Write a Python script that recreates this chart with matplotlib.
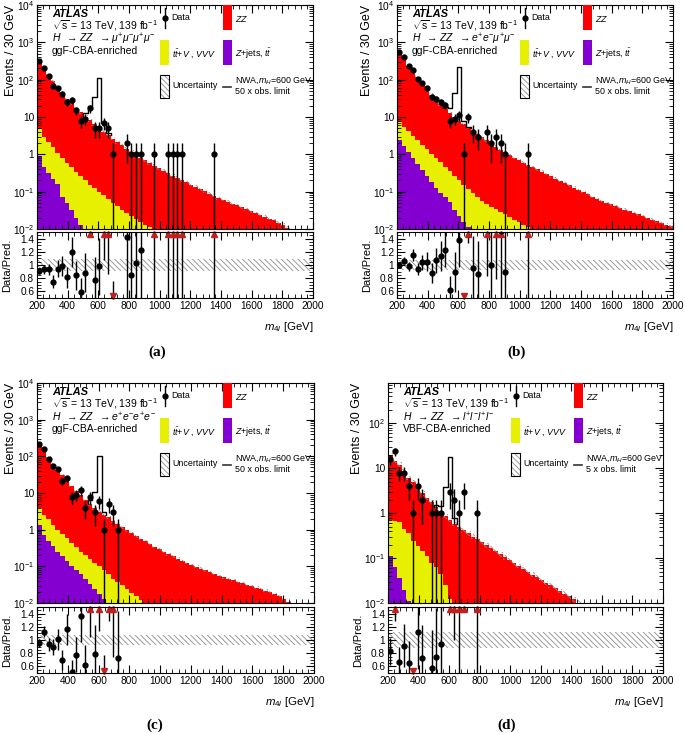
import numpy as np
import matplotlib
matplotlib.use("Agg")
import matplotlib.pyplot as plt
from matplotlib.patches import Rectangle
from matplotlib.lines import Line2D
from matplotlib.ticker import MultipleLocator, LogLocator, FuncFormatter, NullFormatter

plt.rcParams['font.family'] = ['Liberation Sans', 'DejaVu Sans']
plt.rcParams['mathtext.fontset'] = 'custom'
plt.rcParams['mathtext.rm'] = 'Liberation Sans'
plt.rcParams['mathtext.it'] = 'Liberation Sans:italic'
plt.rcParams['mathtext.bf'] = 'Liberation Sans:bold'
plt.rcParams['hatch.linewidth'] = 0.6
plt.rcParams['hatch.color'] = '#8c8c8c'

# 30 GeV bins, 200-2000 GeV
edges = np.arange(200, 2001, 30)
NB = len(edges) - 1
centers = edges[:-1] + 15

# background predictions, log10(events/bin)
a_zz = [2.53, 2.33, 2.12, 1.95, 1.78, 1.62, 1.48, 1.36, 1.24, 1.12,
        1.00, 0.90, 0.80, 0.70, 0.60, 0.50, 0.41, 0.32, 0.23, 0.14,
        0.06, -0.02, -0.10, -0.17, -0.24, -0.31, -0.38, -0.45, -0.51, -0.57,
        -0.63, -0.69, -0.75, -0.81, -0.87, -0.93, -0.99, -1.05, -1.11, -1.17,
        -1.22, -1.27, -1.32, -1.37, -1.42, -1.47, -1.52, -1.57, -1.62, -1.67,
        -1.72, -1.77, -1.83, -1.89, -1.96, -2.05, -2.2, -2.4, -2.5, -2.6]
a_ttv = [0.58, 0.38, 0.25, 0.12, -0.02, -0.13, -0.26, -0.38, -0.5, -0.6,
         -0.71, -0.81, -0.9, -1.0, -1.1, -1.2, -1.3, -1.39, -1.48, -1.57,
         -1.65, -1.73, -1.81, -1.88, -1.95, -2.02, -2.1, -2.2]
a_zjets = [-0.05, -0.33, -0.5, -0.65, -0.8, -1.15, -1.3, -1.48, -1.7, -1.9, -2.1]

b_zz = [2.74, 2.57, 2.37, 2.2, 2.05, 1.88, 1.73, 1.59, 1.45, 1.33,
        1.22, 1.1, 0.99, 0.89, 0.8, 0.7, 0.61, 0.53, 0.45, 0.37,
        0.29, 0.2, 0.11, 0.04, -0.03, -0.1, -0.16, -0.23, -0.29, -0.35,
        -0.41, -0.47, -0.53, -0.59, -0.65, -0.71, -0.77, -0.83, -0.89, -0.95,
        -1.01, -1.07, -1.13, -1.19, -1.25, -1.3, -1.34, -1.39, -1.43, -1.48,
        -1.52, -1.57, -1.61, -1.66, -1.7, -1.75, -1.79, -1.84, -1.88, -1.93]
b_ttv = [0.7, 0.58, 0.48, 0.37, 0.27, 0.16, 0.05, -0.07, -0.18, -0.29,
         -0.41, -0.53, -0.64, -0.75, -0.87, -0.97, -1.08, -1.15, -1.24, -1.32,
         -1.4, -1.47, -1.54, -1.61, -1.68, -1.75, -1.82, -1.88, -1.94, -2.01,
         -2.07, -2.13]
b_zjets = [0.38, 0.22, 0.06, -0.1, -0.27, -0.43, -0.58, -0.73, -0.9, -1.03,
           -1.15, -1.28, -1.5, -1.65, -1.8, -1.95, -2.1]

c_zz = [2.34, 2.15, 1.96, 1.79, 1.63, 1.47, 1.32, 1.18, 1.05, 0.93,
        0.8, 0.68, 0.57, 0.48, 0.4, 0.32, 0.22, 0.13, 0.05, -0.03,
        -0.11, -0.19, -0.26, -0.33, -0.4, -0.47, -0.54, -0.61, -0.67, -0.73,
        -0.79, -0.85, -0.91, -0.96, -1.01, -1.06, -1.11, -1.16, -1.21, -1.26,
        -1.3, -1.34, -1.38, -1.42, -1.46, -1.5, -1.54, -1.58, -1.62, -1.66,
        -1.7, -1.75, -1.81, -1.89, -1.98, -2.1, -2.3, -2.4, -2.5, -2.6]
c_ttv = [0.42, 0.25, 0.15, -0.02, -0.12, -0.24, -0.36, -0.48, -0.6, -0.72,
         -0.81, -0.9, -0.99, -1.09, -1.18, -1.27, -1.35, -1.42, -1.52, -1.62,
         -1.72, -1.82, -1.92, -2.02, -2.12]
c_zjets = [0.13, -0.14, -0.3, -0.45, -0.6, -0.72, -0.86, -0.98, -1.1, -1.22,
           -1.35, -1.48, -1.62, -1.75, -1.9, -2.05]

d_zz = [1.27, 1.15, 1.06, 0.92, 0.76, 0.66, 0.53, 0.42, 0.32, 0.22,
        0.11, 0.01, -0.08, -0.16, -0.24, -0.31, -0.38, -0.45, -0.52, -0.58,
        -0.65, -0.71, -0.78, -0.85, -0.91, -0.98, -1.04, -1.11, -1.17, -1.24,
        -1.3, -1.37, -1.43, -1.49, -1.55, -1.61, -1.67, -1.73, -1.79, -1.85,
        -1.92, -1.99, -2.1, -2.3]
d_ttv = [-0.22, -0.21, -0.23, -0.37, -0.46, -0.62, -0.74, -0.85, -0.95, -1.1,
         -1.2, -1.35, -1.6, -1.9, -2.2]
d_zjets = [-0.95, -1.2, -1.45, -1.7, -1.95, -2.3]

# observed events per bin
a_data = [312, 203, 125, 68, 58, 42, 25, 28, 15, 8, 9, 17, 5, 5, 7, 5, 1, 0, 0, 2,
          1, 1, 1, 0, 0, 1, 0, 0, 1, 1, 1, 1, 0, 0, 0, 0, 0, 0, 1]
b_data = [560, 400, 234, 186, 107, 81, 58, 35, 31, 25, 21, 8, 9, 11, 1, 10, 4, 3, 0, 4,
          2, 3, 2, 1, 0, 0, 0, 0, 1]
c_data = [213, 162, 87, 56, 44, 21, 25, 8, 9, 12, 4, 8, 3, 6, 1, 5, 3, 1]
d_data = [16, 24, 8, 8, 4, 1, 4, 2, 0, 1, 1, 1, 0, 3, 2, 1, 3, 0, 0, 1]

# NWA 600 GeV signal (scaled), first bin index 10
sig_first = 10
a_sig = [2.6, 12, 28, 107, 2.9, 0.6]
b_sig = [2.0, 5, 34, 212, 1.5, 0.4]
c_sig = [0.0, 1.5, 7, 97, 0.5]
d_sig = [0.2, 0.4, 2.9, 17, 0.2]

# relative systematic uncertainty
unc = [0.09, 0.08, 0.08, 0.12]

channels = [r'$H\ \ \rightarrow ZZ\ \ \rightarrow\mu^{+}\mu^{-}\mu^{+}\mu^{-}$',
            r'$H\ \ \rightarrow ZZ\ \ \rightarrow e^{+}e^{-}\mu^{+}\mu^{-}$',
            r'$H\ \ \rightarrow ZZ\ \ \rightarrow e^{+}e^{-}e^{+}e^{-}$',
            r'$H\ \ \rightarrow ZZ\ \ \rightarrow l^{+}l^{-}l^{+}l^{-}$']
regions = ['ggF-CBA-enriched', 'ggF-CBA-enriched', 'ggF-CBA-enriched', 'VBF-CBA-enriched']
sig_scales = ['50 x obs. limit', '50 x obs. limit', '50 x obs. limit', '5 x obs. limit']
letters = ['(a)', '(b)', '(c)', '(d)']

RED = '#ff0000'
YELLOW = '#e6f000'
PURPLE = '#8400d0'
ARROW = '#c0201e'
HATCH = '\\\\\\\\\\\\'

W, H = 685, 733
fig = plt.figure(figsize=(W / 100, H / 100), dpi=100)

# layout in pixels: (left, top, right, bottom)
main_px = [(37, 5, 313, 229), (397, 5, 673, 229), (37, 383, 314, 603), (388, 383, 663, 603)]
ratio_px = [(37, 232, 313, 298), (397, 232, 673, 298), (37, 607, 314, 673), (388, 607, 663, 673)]
letter_px = [(157, 352), (517, 352), (155, 725), (507, 725)]
ylab_off = [-20, -24, -20, -25]
ymaxs = [1e4, 1e4, 1e4, 790]


def rect(px):
    l, t, r, b = px
    return [l / W, 1 - b / H, (r - l) / W, (b - t) / H]


def fx(x):
    return x / W


def fy(y):
    return 1 - y / H


def lin(logs):
    v = np.zeros(NB)
    v[:len(logs)] = 10.0 ** np.array(logs)
    return v


def logfmt(v, pos):
    e = int(round(np.log10(v)))
    if e == 0:
        return '1'
    if e == 1:
        return '10'
    return r'$10^{%d}$' % e


def style(ax):
    ax.tick_params(which='both', direction='in', top=True, right=True, labelsize=7.3, pad=2)
    ax.tick_params(which='major', length=6)
    ax.tick_params(which='minor', length=3)
    for s in ax.spines.values():
        s.set_linewidth(0.8)
    ax.xaxis.set_major_locator(MultipleLocator(200))
    ax.xaxis.set_minor_locator(MultipleLocator(40))


def draw(k, zz_log, ttv_log, zj_log, data, sig):
    zj = lin(zj_log)
    tv = lin(ttv_log)
    zz = lin(zz_log)
    c2 = zj + tv
    tot = c2 + zz
    n = np.zeros(NB)
    n[:len(data)] = data
    floor = 1e-4

    ax = fig.add_axes(rect(main_px[k]))
    ax.set_yscale('log')
    ax.set_xlim(200, 2000)
    ax.set_ylim(1e-2, ymaxs[k])
    ax.stairs(np.maximum(tot, floor), edges, baseline=floor, fill=True, color=RED, lw=0)
    ax.stairs(np.maximum(c2, floor), edges, baseline=floor, fill=True, color=YELLOW, lw=0)
    ax.stairs(np.maximum(zj, floor), edges, baseline=floor, fill=True, color=PURPLE, lw=0)

    # uncertainty band on the total
    lo = np.maximum(tot * (1 - unc[k]), floor)
    hi = np.maximum(tot * (1 + unc[k]), floor)
    ax.fill_between(edges, np.append(lo, lo[-1]), np.append(hi, hi[-1]), step='post',
                    facecolor='none', edgecolor='#8c8c8c', hatch=HATCH, linewidth=0)

    # signal on top of background
    s = np.zeros(NB)
    s[sig_first:sig_first + len(sig)] = sig
    idx = np.nonzero(s)[0]
    i0, i1 = idx[0], idx[-1]
    xs, ys = [edges[i0]], [tot[i0]]
    for i in range(i0, i1 + 1):
        xs += [edges[i], edges[i + 1]]
        ys += [tot[i] + s[i]] * 2
    xs.append(edges[i1 + 1])
    ys.append(tot[i1])
    ax.plot(xs, ys, color='black', lw=1.0)

    m = n > 0
    err = np.sqrt(n)
    low = n - np.maximum(n - err, floor)
    ax.errorbar(centers[m], n[m], yerr=[low[m], err[m]], fmt='o', ms=3.5, color='black',
                elinewidth=1, capsize=0)

    style(ax)
    ax.yaxis.set_major_locator(LogLocator(base=10, numticks=12))
    ax.yaxis.set_minor_locator(LogLocator(base=10, subs=np.arange(2, 10), numticks=12))
    ax.yaxis.set_major_formatter(FuncFormatter(logfmt))
    ax.yaxis.set_minor_formatter(NullFormatter())
    ax.tick_params(labelbottom=False)
    ax.set_ylabel('Events / 30 GeV', fontsize=9, loc='top')
    ax.yaxis.set_label_coords(ylab_off[k] / (main_px[k][2] - main_px[k][0]), 1.0)

    # ratio panel
    ar = fig.add_axes(rect(ratio_px[k]))
    ar.set_xlim(200, 2000)
    ar.set_ylim(0.5, 1.5)
    ar.fill_between([200, 2000], 1 - unc[k], 1 + unc[k], facecolor='none',
                    edgecolor='#8c8c8c', hatch=HATCH, linewidth=0)
    r = np.where(tot > 0, n / np.where(tot > 0, tot, 1), 0)
    re = np.where(tot > 0, err / np.where(tot > 0, tot, 1), 0)
    ar.errorbar(centers[m], r[m], yerr=re[m], fmt='o', ms=3.5, color='black',
                elinewidth=1, capsize=0)
    up = m & (r > 1.5)
    dn = m & (r < 0.5)
    ar.plot(centers[up], np.full(up.sum(), 1.472), ls='none', marker='^', ms=4,
            color=ARROW, clip_on=False)
    ar.plot(centers[dn], np.full(dn.sum(), 0.528), ls='none', marker='v', ms=4,
            color=ARROW, clip_on=False)
    style(ar)
    ar.yaxis.set_minor_locator(MultipleLocator(0.05))
    ar.set_yticks([0.6, 0.8, 1.0, 1.2, 1.4])
    ar.yaxis.set_major_formatter(FuncFormatter(lambda v, p: f'{v:g}'))
    ar.set_ylabel('Data/Pred.', fontsize=8)
    ar.yaxis.set_label_coords(-25 / (ratio_px[k][2] - ratio_px[k][0]), 0.5)
    ar.set_xlabel(r'$m_{4l}$ [GeV]', fontsize=8.2, loc='right')
    ar.xaxis.set_label_coords(1.0, -0.34)

    # text block
    L, T = main_px[k][0], main_px[k][1]
    fig.text(fx(L + 15), fy(T + 9), 'ATLAS', fontsize=8, fontweight='bold', fontstyle='italic',
             va='center')
    fig.text(fx(L + 15), fy(T + 21), r'$\sqrt{\mathrm{s}}$ = 13 TeV, 139 fb$^{-1}$',
             fontsize=7.5, va='center')
    fig.text(fx(L + 15), fy(T + 34), channels[k], fontsize=7.5, va='center')
    fig.text(fx(L + 15), fy(T + 46), regions[k], fontsize=7.5, va='center')

    # legend
    tr = fig.transFigure
    fs = 6.4
    fig.add_artist(Line2D([fx(L + 128)] * 2, [fy(T + 3), fy(T + 23)], color='black', lw=1,
                          transform=tr))
    fig.add_artist(Line2D([fx(L + 128)], [fy(T + 13)], marker='o', ms=3.5, color='black',
                          transform=tr))
    fig.text(fx(L + 134), fy(T + 13), 'Data', fontsize=fs, va='center')
    fig.add_artist(Rectangle((fx(L + 186), fy(T + 25)), 9 / W, 25 / H, facecolor=RED,
                             edgecolor='none', transform=tr))
    fig.text(fx(L + 198), fy(T + 14), r'$ZZ$', fontsize=fs, va='center')
    fig.add_artist(Rectangle((fx(L + 123), fy(T + 60)), 9 / W, 25 / H, facecolor=YELLOW,
                             edgecolor='none', transform=tr))
    fig.text(fx(L + 135), fy(T + 49), r'$t\bar{t}$+$V$ , $VVV$', fontsize=fs, va='center')
    fig.add_artist(Rectangle((fx(L + 186), fy(T + 60)), 9 / W, 25 / H, facecolor=PURPLE,
                             edgecolor='none', transform=tr))
    fig.text(fx(L + 198), fy(T + 49), r'$Z$+jets, $t\bar{t}$', fontsize=fs, va='center')
    fig.add_artist(Rectangle((fx(L + 123), fy(T + 93)), 9 / W, 23 / H, facecolor='white',
                             edgecolor='#8c8c8c', hatch=HATCH, lw=0, transform=tr))
    fig.add_artist(Rectangle((fx(L + 123), fy(T + 93)), 9 / W, 23 / H, fill=False,
                             edgecolor='black', lw=0.8, transform=tr))
    fig.text(fx(L + 135), fy(T + 81), 'Uncertainty', fontsize=fs, va='center')
    fig.add_artist(Line2D([fx(L + 186), fx(L + 194)], [fy(T + 82)] * 2, color='#333333',
                          lw=1.2, transform=tr))
    fig.text(fx(L + 198), fy(T + 75), r'NWA,$m_{H}$=600 GeV', fontsize=fs, va='center')
    fig.text(fx(L + 198), fy(T + 87), sig_scales[k], fontsize=fs, va='center')

    lx, ly = letter_px[k]
    fig.text(fx(lx), fy(ly), letters[k], fontsize=11, fontweight='bold',
             family='Liberation Serif', ha='center', va='center')


draw(0, a_zz, a_ttv, a_zjets, a_data, a_sig)
draw(1, b_zz, b_ttv, b_zjets, b_data, b_sig)
draw(2, c_zz, c_ttv, c_zjets, c_data, c_sig)
draw(3, d_zz, d_ttv, d_zjets, d_data, d_sig)

fig.savefig('out.png', dpi=100)
